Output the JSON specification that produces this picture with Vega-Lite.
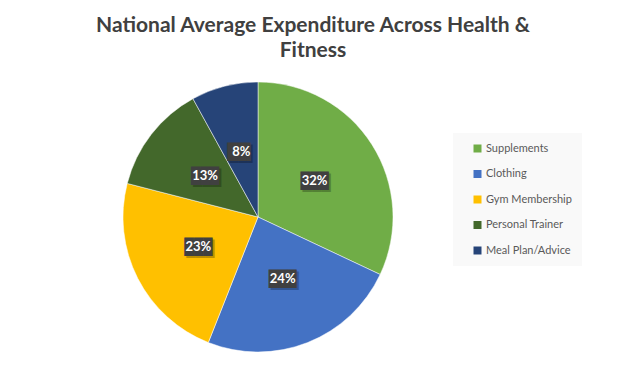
{
  "$schema": "https://vega.github.io/schema/vega-lite/v6.json",
  "autosize": "none",
  "width": 270,
  "height": 270,
  "padding": {"left": 123, "top": 82, "right": 234, "bottom": 14},
  "background": "white",
  "title": {
    "text": ["National Average Expenditure Across Health &", "Fitness"],
    "font": "Lato",
    "fontSize": 21,
    "fontWeight": "bold",
    "color": "#404040",
    "anchor": "middle",
    "dx": 55,
    "offset": 20,
    "lineHeight": 25
  },
  "data": {
    "values": [
      {"category": "Supplements", "value": 32, "label": "32%"},
      {"category": "Clothing", "value": 24, "label": "24%"},
      {"category": "Gym Membership", "value": 23, "label": "23%"},
      {"category": "Personal Trainer", "value": 13, "label": "13%"},
      {"category": "Meal Plan/Advice", "value": 8, "label": "8%"}
    ]
  },
  "encoding": {
    "theta": {"field": "value", "type": "quantitative", "stack": true},
    "order": {"field": "value", "type": "quantitative", "sort": "descending"}
  },
  "layer": [
    {
      "mark": {"type": "arc", "outerRadius": 135, "stroke": "white", "strokeWidth": 0.5},
      "encoding": {
        "color": {
          "field": "category",
          "type": "nominal",
          "sort": ["Supplements", "Clothing", "Gym Membership", "Personal Trainer", "Meal Plan/Advice"],
          "scale": {
            "domain": ["Supplements", "Clothing", "Gym Membership", "Personal Trainer", "Meal Plan/Advice"],
            "range": ["#70AD47", "#4472C4", "#FFC000", "#43682B", "#264478"]
          },
          "legend": {
            "title": null,
            "orient": "none",
            "legendX": 330,
            "legendY": 51,
            "symbolType": "square",
            "symbolSize": 64,
            "symbolStrokeWidth": 0,
            "labelFont": "Lato",
            "labelFontSize": 11,
            "labelColor": "#595959",
            "rowPadding": 13.5,
            "labelOffset": 3,
            "padding": 10,
            "fillColor": "#f9f9f9",
            "symbolOffset": 9
          }
        }
      }
    },
    {
      "transform": [{"calculate": "length(datum.label) > 2 ? '███' : '██▌'", "as": "box"}],
      "mark": {"type": "text", "radius": 67, "dx": 2, "dy": 2, "font": "DejaVu Sans Mono", "fontSize": 15.5, "color": "#000000", "opacity": 0.25, "baseline": "middle"},
      "encoding": {"text": {"field": "box"}}
    },
    {
      "transform": [{"calculate": "length(datum.label) > 2 ? '███' : '██▌'", "as": "box"}],
      "mark": {"type": "text", "radius": 67, "font": "DejaVu Sans Mono", "fontSize": 15.5, "color": "#404040", "baseline": "middle"},
      "encoding": {"text": {"field": "box"}}
    },
    {
      "mark": {"type": "text", "radius": 67, "font": "Lato", "fontSize": 13, "fontWeight": "bold", "color": "white", "baseline": "middle"},
      "encoding": {"text": {"field": "label"}}
    }
  ],
  "config": {"view": {"stroke": null}}
}
